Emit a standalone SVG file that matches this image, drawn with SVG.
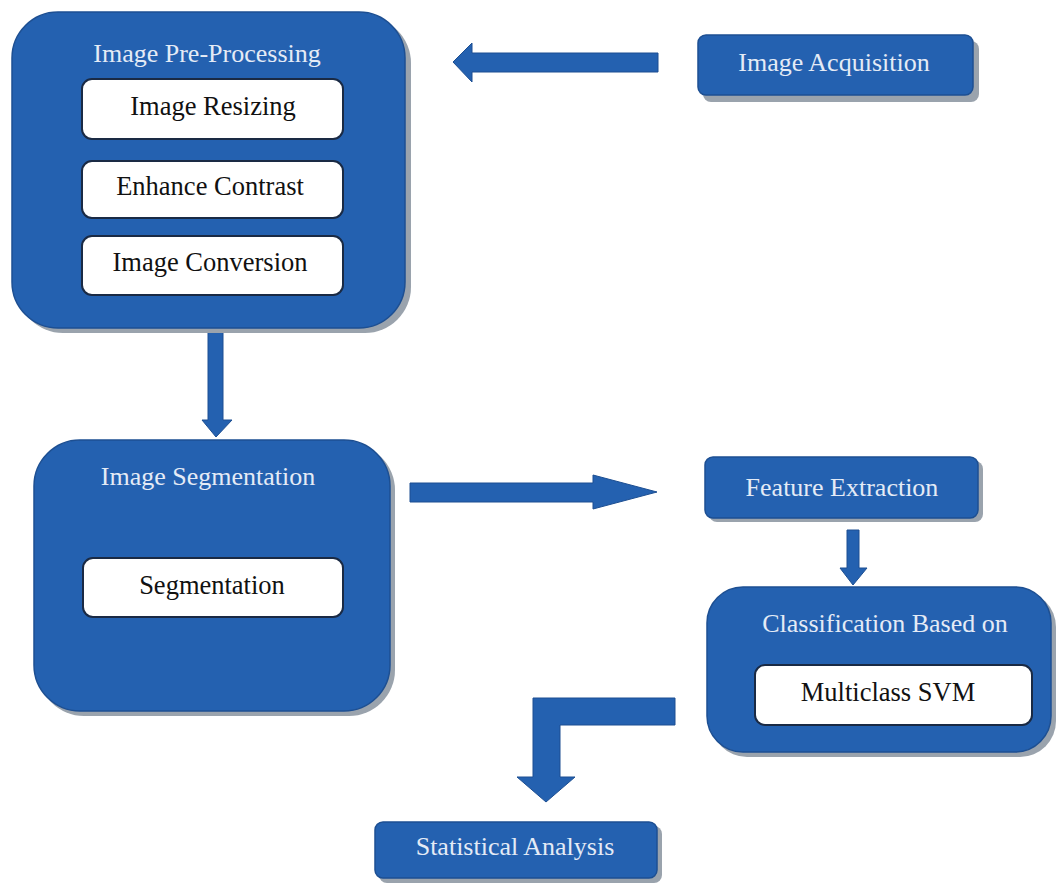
<svg xmlns="http://www.w3.org/2000/svg" width="1058" height="886" viewBox="0 0 1058 886">
<defs>
<style>
.box{fill:#2461b0;stroke:#1d4f92;stroke-width:1.5}
.shadow{fill:#9aa3ad}
.inner{fill:#ffffff;stroke:#1a2a44;stroke-width:2}
.ttl{font-size:26px;fill:#e4ebf6;text-anchor:middle}
.lbl{font-size:26.5px;fill:#111111;text-anchor:middle}
.arr{fill:#2461b0;stroke:#1d4f92;stroke-width:1}
</style>
</defs>
<rect width="1058" height="886" fill="#ffffff"/>
<g id="connectors">
<polygon class="arr" points="658,53 472,53 472,43 453,62 472,82 472,72 658,72"/>
<polygon class="arr" points="208,330 223,330 223,420 232,420 216,437 202,420 208,420"/>
<polygon class="arr" points="410,483 593,483 593,475 657,492 593,509 593,502 410,502"/>
<polygon class="arr" points="847,530 859,530 859,568 867,568 853,585 840,568 847,568"/>
<polygon class="arr" points="675,698 675,725 560,725 560,777 575,777 546,802 517,777 533,777 533,698"/>
</g>
<g font-family="'Liberation Serif','Times New Roman','DejaVu Serif',serif">
<g id="preprocessing">
<rect class="shadow" x="17" y="17" width="394" height="316" rx="46"/>
<rect class="box" x="12" y="12" width="393" height="316" rx="46"/>
<text class="ttl" x="207" y="62">Image Pre-Processing</text>
<g id="resizing"><rect class="inner" x="82" y="79" width="261" height="60" rx="10"/><text class="lbl" x="213" y="115">Image Resizing</text></g>
<g id="contrast"><rect class="inner" x="82" y="161" width="261" height="57" rx="10"/><text class="lbl" x="210" y="195">Enhance Contrast</text></g>
<g id="conversion"><rect class="inner" x="82" y="236" width="261" height="59" rx="10"/><text class="lbl" x="210" y="271">Image Conversion</text></g>
</g>
<g id="acquisition">
<rect class="shadow" x="703" y="41" width="276" height="61" rx="8"/>
<rect class="box" x="698" y="35" width="275" height="60" rx="8"/>
<text class="ttl" x="834" y="71">Image Acquisition</text>
</g>
<g id="segmentation">
<rect class="shadow" x="38" y="444" width="357" height="272" rx="46"/>
<rect class="box" x="34" y="440" width="356" height="271" rx="46"/>
<text class="ttl" x="208" y="485">Image Segmentation</text>
<g id="seg-inner"><rect class="inner" x="83" y="558" width="260" height="59" rx="10"/><text class="lbl" x="212" y="594">Segmentation</text></g>
</g>
<g id="feature">
<rect class="shadow" x="709" y="461" width="274" height="61" rx="8"/>
<rect class="box" x="705" y="457" width="273" height="61" rx="8"/>
<text class="ttl" x="842" y="496">Feature Extraction</text>
</g>
<g id="classification">
<rect class="shadow" x="711" y="591" width="345" height="166" rx="36"/>
<rect class="box" x="707" y="587" width="344" height="165" rx="36"/>
<text class="ttl" x="885" y="632">Classification Based on</text>
<g id="svm"><rect class="inner" x="755" y="665" width="277" height="60" rx="10"/><text class="lbl" x="888" y="701">Multiclass SVM</text></g>
</g>
<g id="statistical">
<rect class="shadow" x="379" y="826" width="283" height="57" rx="8"/>
<rect class="box" x="375" y="822" width="282" height="56" rx="8"/>
<text class="ttl" x="515" y="855">Statistical Analysis</text>
</g>
</g>
</svg>
